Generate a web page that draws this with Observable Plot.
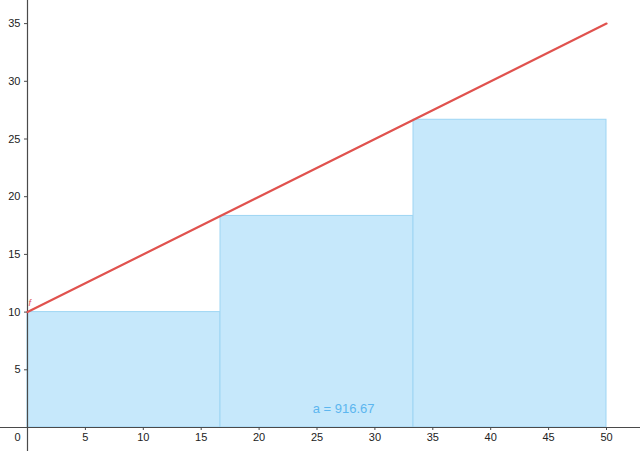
<!DOCTYPE html>
<html>
<head>
<meta charset="utf-8">
<script src="https://cdn.jsdelivr.net/npm/d3@7"></script>
<script src="https://cdn.jsdelivr.net/npm/@observablehq/plot@0.6"></script>
<style>
  html, body { margin: 0; padding: 0; background: #fff; }
  svg { display: block; }
</style>
</head>
<body>
<div id="chart"></div>
<script>
// Function f(x) = 10 + 0.5x, endpoints
const lineX = [0, 50];
const lineY = [10, 35];
// Lower sum rectangles
const rectX1 = [0, 16.667, 33.333];
const rectX2 = [16.667, 33.333, 50];
const rectH = [10, 18.333, 26.667];
// Tick labels
const xTicks = [5, 10, 15, 20, 25, 30, 35, 40, 45, 50];
const yTicks = [5, 10, 15, 20, 25, 30, 35];
const sumLabel = "a = 916.67";
const sumLabelPos = [27.3, 1.65];

const rects = rectX1.map((x1, i) => ({x1, x2: rectX2[i], y: rectH[i]}));
const linePts = lineX.map((x, i) => ({x, y: lineY[i]}));

const pxPerX = 11.58, pxPerY = 11.54;
const x0px = 27, y0px = 427;
const W = 640, H = 451;

const font = "Liberation Sans, Arial, sans-serif";

const chart = Plot.plot({
  width: W,
  height: H,
  margin: 0,
  x: {domain: [-x0px / pxPerX, (W - x0px) / pxPerX], range: [0, W], axis: null},
  y: {domain: [-(H - y0px) / pxPerY, y0px / pxPerY], range: [H, 0], axis: null},
  style: {fontFamily: font, background: "#fff"},
  marks: [
    Plot.rectY(rects, {x1: "x1", x2: "x2", y1: 0, y2: "y", fill: "#c6e8fb", stroke: "#9ed5f3", strokeWidth: 1}),
    Plot.ruleY([0], {stroke: "#4a4a4a", strokeWidth: 1.2}),
    Plot.ruleX([0], {stroke: "#4a4a4a", strokeWidth: 1.2}),
    Plot.ruleX(xTicks, {x: d => d, y1: 0, y2: -3 / pxPerY, stroke: "#4a4a4a"}),
    Plot.ruleY(yTicks, {y: d => d, x1: 0, x2: -3 / pxPerX, stroke: "#4a4a4a"}),
    Plot.text(xTicks, {x: d => d, y: 0, dy: 10, text: d => String(d), fill: "#222", fontSize: 11, textAnchor: "middle"}),
    Plot.text(yTicks, {x: 0, y: d => d, dx: -7, text: d => String(d), fill: "#222", fontSize: 11, textAnchor: "end"}),
    Plot.text([0], {x: 0, y: 0, dx: -10, dy: 10, text: d => String(d), fill: "#222", fontSize: 11, textAnchor: "middle"}),
    Plot.line(linePts, {x: "x", y: "y", stroke: "#e0524e", strokeWidth: 2.2}),
    Plot.text([0], {x: 0, y: 10, dx: 1, dy: -9, text: () => "f", fill: "#e0524e", fontSize: 9, fontStyle: "italic", textAnchor: "start"}),
    Plot.text([0], {x: () => sumLabelPos[0], y: () => sumLabelPos[1], text: () => sumLabel, fill: "#5cb6ef", fontSize: 13, textAnchor: "middle"})
  ]
});
document.getElementById("chart").appendChild(chart);
</script>
</body>
</html>
